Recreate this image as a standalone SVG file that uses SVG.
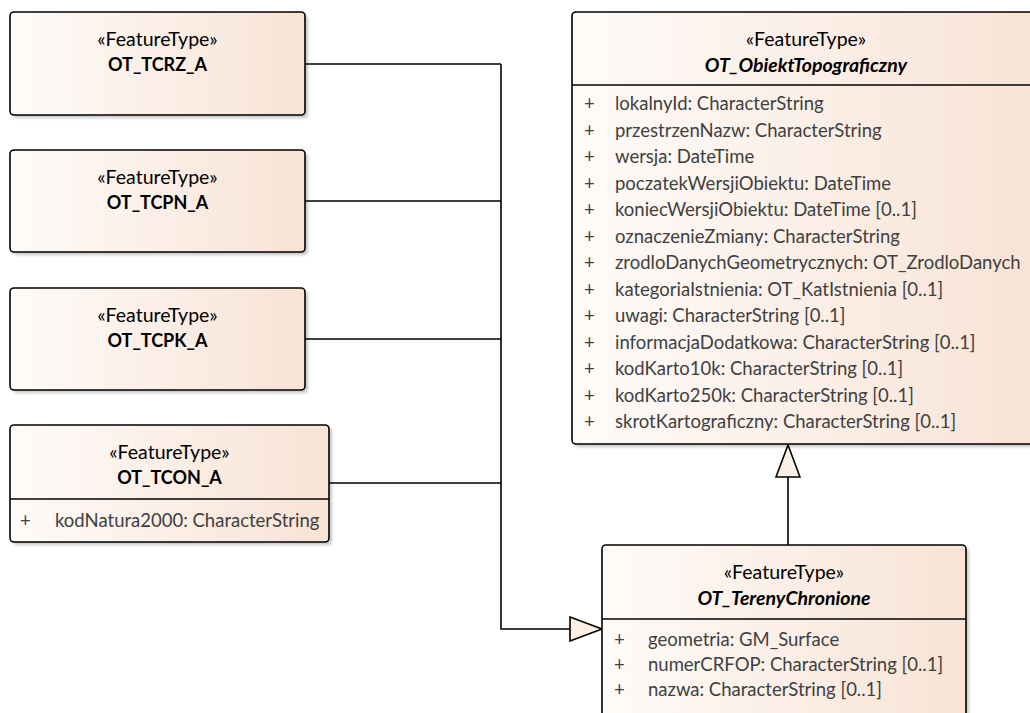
<svg xmlns="http://www.w3.org/2000/svg" width="1030" height="713" viewBox="0 0 1030 713">
<style>
.box{stroke:#000;stroke-width:1.6;fill:url(#grad)}
.shadow{fill:#000;opacity:.22;filter:url(#blur)}
.sep{stroke:#000;stroke-width:1.4}
.st{font-family:Lato,"Liberation Sans",sans-serif;font-size:19.5px;fill:#000;text-anchor:middle}
.nm{font-family:Lato,"Liberation Sans",sans-serif;font-size:18px;font-weight:bold;fill:#000;text-anchor:middle}
.it{font-style:italic;font-size:19.5px}
.at{font-family:Lato,"Liberation Sans",sans-serif;font-size:18.5px;fill:#404040}
.conn{stroke:#000;stroke-width:1.6;fill:none}
</style>
<defs>
<linearGradient id="grad" x1="0" y1="0" x2="1" y2="0">
<stop offset="0" stop-color="#FEFBF9"/>
<stop offset="1" stop-color="#F8E3D5"/>
</linearGradient>
<filter id="blur" x="-5%" y="-5%" width="110%" height="110%"><feGaussianBlur stdDeviation="1.5"/></filter>
<marker id="gen" viewBox="0 0 34 26" refX="33" refY="13" markerWidth="34" markerHeight="26" markerUnits="userSpaceOnUse" orient="auto">
<path d="M1,1 L33,13 L1,25 Z" fill="#FBF0E3" stroke="#000" stroke-width="1.6"/>
</marker>
</defs>

<g id="connectors">
<path class="conn" d="M305,64 H501"/>
<path class="conn" d="M305,201 H501"/>
<path class="conn" d="M305,339 H501"/>
<path class="conn" d="M329,483 H501"/>
<path class="conn" d="M501,64 V629 H602" marker-end="url(#gen)"/>
<path class="conn" d="M788,545 V445" marker-end="url(#gen)"/>
</g>

<g id="OT_TCRZ_A">
<rect class="shadow" x="13" y="15" width="295" height="103" rx="4"/>
<rect class="box" x="10" y="12" width="295" height="103" rx="4"/>
<text class="st" x="157.5" y="46">«FeatureType»</text>
<text class="nm" x="157.5" y="71">OT_TCRZ_A</text>
</g>

<g id="OT_TCPN_A">
<rect class="shadow" x="13" y="153" width="295" height="102" rx="4"/>
<rect class="box" x="10" y="150" width="295" height="102" rx="4"/>
<text class="st" x="157.5" y="184">«FeatureType»</text>
<text class="nm" x="157.5" y="209">OT_TCPN_A</text>
</g>

<g id="OT_TCPK_A">
<rect class="shadow" x="13" y="291" width="295" height="102" rx="4"/>
<rect class="box" x="10" y="288" width="295" height="102" rx="4"/>
<text class="st" x="157.5" y="322">«FeatureType»</text>
<text class="nm" x="157.5" y="347">OT_TCPK_A</text>
</g>

<g id="OT_TCON_A">
<rect class="shadow" x="13" y="428" width="319" height="117" rx="4"/>
<rect class="box" x="10" y="425" width="319" height="117" rx="4"/>
<text class="st" x="169.5" y="459">«FeatureType»</text>
<text class="nm" x="169.5" y="484">OT_TCON_A</text>
<line class="sep" x1="10" y1="499" x2="329" y2="499"/>
<text class="at" x="20" y="527">+</text>
<text class="at" x="55" y="527">kodNatura2000: CharacterString</text>
</g>

<g id="OT_ObiektTopograficzny">
<rect class="shadow" x="575" y="15" width="468" height="432" rx="4"/>
<rect class="box" x="572" y="12" width="468" height="432" rx="4"/>
<text class="st" x="806" y="46">«FeatureType»</text>
<text class="nm it" x="806" y="72">OT_ObiektTopograficzny</text>
<line class="sep" x1="572" y1="85" x2="1040" y2="85"/>
<g class="at">
<text x="584" y="110">+</text><text x="615" y="110">lokalnyId: CharacterString</text>
<text x="584" y="136.5">+</text><text x="615" y="136.5">przestrzenNazw: CharacterString</text>
<text x="584" y="163">+</text><text x="615" y="163">wersja: DateTime</text>
<text x="584" y="189.5">+</text><text x="615" y="189.5">poczatekWersjiObiektu: DateTime</text>
<text x="584" y="216">+</text><text x="615" y="216">koniecWersjiObiektu: DateTime [0..1]</text>
<text x="584" y="242.5">+</text><text x="615" y="242.5">oznaczenieZmiany: CharacterString</text>
<text x="584" y="269">+</text><text x="615" y="269">zrodloDanychGeometrycznych: OT_ZrodloDanych</text>
<text x="584" y="295.5">+</text><text x="615" y="295.5">kategoriaIstnienia: OT_KatIstnienia [0..1]</text>
<text x="584" y="322">+</text><text x="615" y="322">uwagi: CharacterString [0..1]</text>
<text x="584" y="348.5">+</text><text x="615" y="348.5">informacjaDodatkowa: CharacterString [0..1]</text>
<text x="584" y="375">+</text><text x="615" y="375">kodKarto10k: CharacterString [0..1]</text>
<text x="584" y="401.5">+</text><text x="615" y="401.5">kodKarto250k: CharacterString [0..1]</text>
<text x="584" y="428">+</text><text x="615" y="428">skrotKartograficzny: CharacterString [0..1]</text>
</g>
</g>

<g id="OT_TerenyChronione">
<rect class="shadow" x="605" y="548" width="364" height="180" rx="4"/>
<rect class="box" x="602" y="545" width="364" height="180" rx="4"/>
<text class="st" x="784" y="579">«FeatureType»</text>
<text class="nm it" x="784" y="605">OT_TerenyChronione</text>
<line class="sep" x1="602" y1="619" x2="966" y2="619"/>
<g class="at">
<text x="614" y="646">+</text><text x="648" y="646">geometria: GM_Surface</text>
<text x="614" y="671">+</text><text x="648" y="671">numerCRFOP: CharacterString [0..1]</text>
<text x="614" y="696">+</text><text x="648" y="696">nazwa: CharacterString [0..1]</text>
</g>
</g>
</svg>
